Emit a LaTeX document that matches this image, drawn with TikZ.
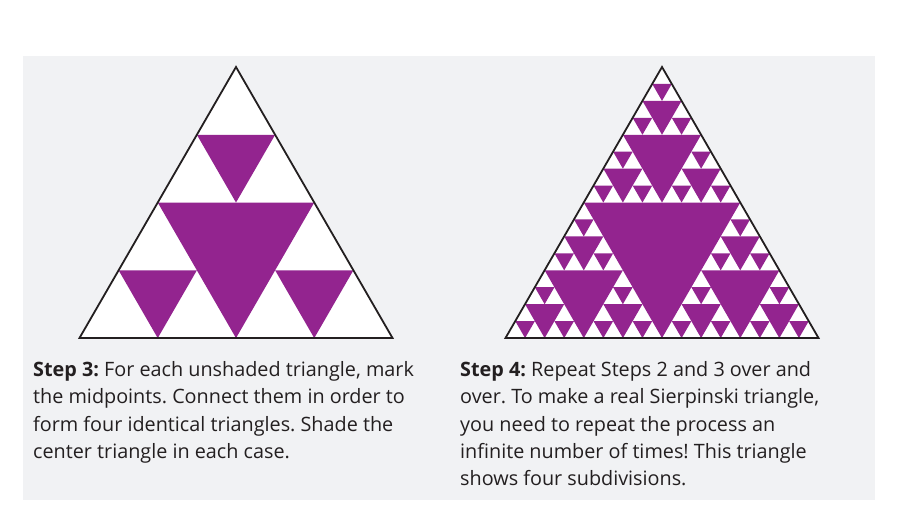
\documentclass[tikz,border=0pt]{standalone}
\usepackage{fontspec}
\setmainfont{Open Sans}
\usetikzlibrary{positioning}
\definecolor{Ink}{HTML}{231F20}
\definecolor{Plum}{HTML}{93248F}
\definecolor{Paper}{HTML}{F1F2F4}
\frenchspacing

% depth, apex x, apex y, side
\newcommand\sierp[4]{%
 \begingroup
 \edef\sd{\number\numexpr#1\relax}%
 \pgfmathsetmacro\sx{#2}%
 \pgfmathsetmacro\sy{#3}%
 \pgfmathsetmacro\ss{#4}%
 \ifnum\sd>0
  \pgfmathsetmacro\hs{\ss/2}%
  \pgfmathsetmacro\lx{\sx-\ss/4}%
  \pgfmathsetmacro\rx{\sx+\ss/4}%
  \pgfmathsetmacro\my{\sy+\ss*0.4330127}%
  \pgfmathsetmacro\by{\sy+\ss*0.8660254}%
  \fill[Plum] (\lx,\my) -- (\rx,\my) -- (\sx,\by) -- cycle;
  \edef\nd{\number\numexpr\sd-1\relax}%
  \sierp{\nd}{\sx}{\sy}{\hs}%
  \sierp{\nd}{\lx}{\my}{\hs}%
  \sierp{\nd}{\rx}{\my}{\hs}%
 \fi
 \endgroup}

\tikzset{
  edgeline/.style={Ink,line width=1.8pt,line join=miter},
  steptext/.style={anchor=north west,inner sep=0pt,align=left,text=Ink,
    font=\fontsize{19.8}{27.4}\selectfont}
}

\begin{document}
\begin{tikzpicture}[x=1pt,y=-1pt]
\useasboundingbox (0,0) rectangle (907,528);
\fill[Paper] (23,56) rectangle (875,500);
% the two triangles
\foreach \ax/\dp in {236/2,662/4} {
  \fill[white] (\ax,67) -- (\ax-156.5,338) -- (\ax+156.5,338) -- cycle;
  \sierp{\dp}{\ax}{67}{313}
  \draw[edgeline] (\ax,67) -- (\ax-156.5,338) -- (\ax+156.5,338) -- cycle;
}
\node[steptext] (stepthree) at (33,361) {\textbf{Step 3:} For each unshaded triangle, mark\\
the midpoints. Connect them in order to\\
form four identical triangles. Shade the\\
center triangle in each case.};
\node[steptext] (stepfour) at (460,361) {\textbf{Step 4:} Repeat Steps 2 and 3 over and\\
over. To make a real Sierpinski triangle,\\
you need to repeat the process an\\
infinite number of times! This triangle\\
shows four subdivisions.};
\end{tikzpicture}
\end{document}
